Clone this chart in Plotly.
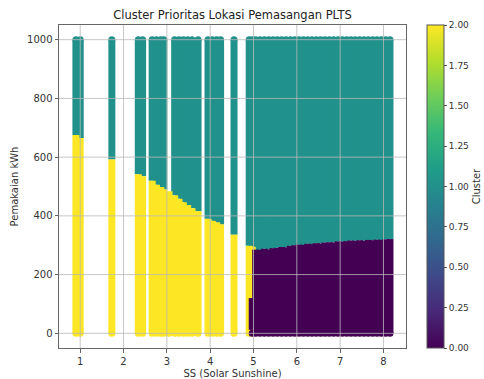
import plotly.graph_objects as go

# ---- data ----
# SS (Solar Sunshine) column positions
ss = [0.90, 1.00, 1.73, 2.34, 2.44, 2.66, 2.76, 2.86, 2.93, 3.05, 3.18, 3.28, 3.38,
      3.48, 3.58, 3.72, 3.95, 4.05, 4.15, 4.24, 4.55, 4.90, 4.97,
      5.05, 5.15, 5.25, 5.35, 5.45, 5.55, 5.65, 5.75, 5.85, 5.95, 6.05, 6.15, 6.25,
      6.35, 6.45, 6.55, 6.65, 6.75, 6.85, 6.95, 7.05, 7.15, 7.25, 7.35, 7.45, 7.55,
      7.65, 7.75, 7.85, 7.95, 8.05, 8.15]
# Pemakaian kWh where the lower cluster ends and cluster 1 begins
kwh_cut = [675, 665, 592, 542, 535, 520, 506, 498, 490, 484, 470, 458, 446,
           437, 426, 416, 390, 383, 378, 371, 336, 298, 295,
           285, 284, 288, 286, 290, 291, 294, 293, 298, 300, 302, 301, 305,
           304, 307, 306, 309, 310, 309, 313, 312, 314, 316, 315, 317, 315,
           318, 317, 319, 318, 320, 321]
# cluster label of the lower part of each column
low_cluster = [2] * 23 + [0] * 32
# whether the column also holds cluster 1 points above the cut
has_upper = [True] * 9 + [False] + [True] * 45
kwh_min = 0
kwh_max = 1000
upper_cluster = 1
# small cluster-0 patch at the bottom of the yellow/purple border
patch_ss = [4.97]
patch_top = [120]

colors = {0: "#440154", 1: "#21918c", 2: "#fde725"}
x_ticks = [1, 2, 3, 4, 5, 6, 7, 8]
y_ticks = [0, 200, 400, 600, 800, 1000]
cbar_ticks = [0, 0.25, 0.5, 0.75, 1.0, 1.25, 1.5, 1.75, 2.0]

LW = 7
fig = go.Figure()

# cluster 1 (upper) segments
ux, uy = [], []
for x, c, h in zip(ss, kwh_cut, has_upper):
    if h:
        ux += [x, x, None]
        uy += [c, kwh_max, None]
fig.add_trace(go.Scatter(x=ux, y=uy, mode="lines", line=dict(color=colors[upper_cluster], width=LW),
                         showlegend=False, hoverinfo="skip"))
fig.add_trace(go.Scatter(x=[x for x, h in zip(ss, has_upper) if h],
                         y=[kwh_max for h in has_upper if h], mode="markers",
                         marker=dict(color=colors[upper_cluster], size=LW, line=dict(width=0)),
                         showlegend=False, hoverinfo="skip"))

# lower clusters
for cl in (2, 0):
    lx, ly = [], []
    for x, c, l in zip(ss, kwh_cut, low_cluster):
        if l == cl:
            lx += [x, x, None]
            ly += [kwh_min, c, None]
    fig.add_trace(go.Scatter(x=lx, y=ly, mode="lines", line=dict(color=colors[cl], width=LW),
                             showlegend=False, hoverinfo="skip"))

px_, py_ = [], []
for x, t in zip(patch_ss, patch_top):
    px_ += [x, x, None]
    py_ += [kwh_min, t, None]
fig.add_trace(go.Scatter(x=px_, y=py_, mode="lines", line=dict(color=colors[0], width=LW),
                         showlegend=False, hoverinfo="skip"))

# bottom caps, carrying the colorbar
cap_x = ss + patch_ss
cap_c = low_cluster + [0] * len(patch_ss)
fig.add_trace(go.Scatter(
    x=cap_x, y=[kwh_min] * len(cap_x), mode="markers", showlegend=False, hoverinfo="skip",
    marker=dict(size=LW, color=cap_c, colorscale="Viridis", cmin=0, cmax=2, showscale=True,
                line=dict(width=0),
                colorbar=dict(thickness=17, thicknessmode="pixels", len=1, lenmode="fraction",
                              xref="container", x=427 / 484, xanchor="left", y=0.5, yanchor="middle",
                              xpad=0, ypad=0,
                              outlinecolor="#555", outlinewidth=1, ticks="outside", ticklen=3,
                              tickcolor="#555", tickvals=cbar_ticks, tickformat=".2f",
                              tickfont=dict(size=9, color="#333"),
                              title=dict(text="Cluster", side="right", font=dict(size=10, color="#333"))))))

# grid lines drawn above the points, as in the reference
grid = "rgba(185,185,185,0.8)"
shapes = []
for t in x_ticks:
    shapes.append(dict(type="line", xref="x", yref="paper", x0=t, x1=t, y0=0, y1=1,
                       line=dict(color=grid, width=1), layer="above"))
for t in y_ticks:
    shapes.append(dict(type="line", xref="paper", yref="y", x0=0, x1=1, y0=t, y1=t,
                       line=dict(color=grid, width=1), layer="above"))

fig.update_layout(
    width=484, height=379,
    margin=dict(l=59, r=78, t=25, b=31, autoexpand=False),
    paper_bgcolor="white", plot_bgcolor="white",
    font=dict(family="DejaVu Sans", color="#333"),
    shapes=shapes,
    title=dict(text="Cluster Prioritas Lokasi Pemasangan PLTS", x=0.5, xref="paper",
               xanchor="center", y=1 - 15 / 379, yref="container", yanchor="middle",
               font=dict(size=11.5, color="#222")),
    xaxis=dict(range=[0.51, 8.52], tickvals=x_ticks, showgrid=False, automargin=False,
               zeroline=False, showline=True, mirror=True, linecolor="#666", linewidth=1,
               ticks="outside", ticklen=3.5, tickcolor="#666", tickfont=dict(size=10),
               title=dict(text="SS (Solar Sunshine)", font=dict(size=10), standoff=4),
               layer="above traces"),
    yaxis=dict(range=[-50, 1050], tickvals=y_ticks, showgrid=False, automargin=False,
               zeroline=False, showline=True, mirror=True, linecolor="#666", linewidth=1,
               ticks="outside", ticklen=3.5, tickcolor="#666", tickfont=dict(size=10),
               title=dict(text="Pemakaian kWh", font=dict(size=10), standoff=6),
               layer="above traces"),
)

fig.write_html("out.html")
